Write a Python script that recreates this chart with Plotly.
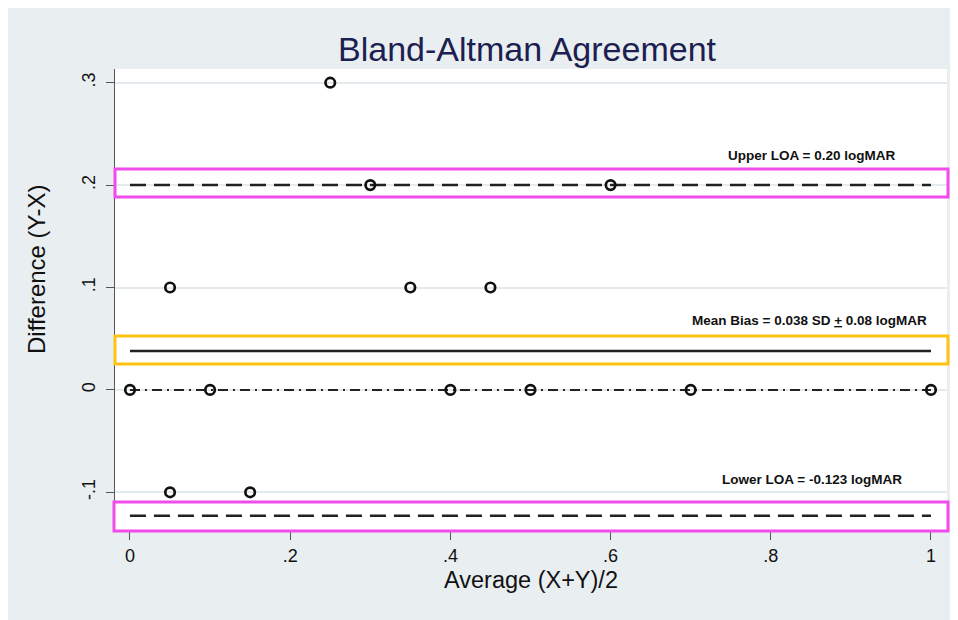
import plotly.graph_objects as go

# ---- data ----
avg_xy = [0.25, 0.30, 0.60, 0.05, 0.35, 0.45, 0.00, 0.10, 0.40, 0.50, 0.70, 1.00, 0.05, 0.15]
diff_yx = [0.30, 0.20, 0.20, 0.10, 0.10, 0.10, 0.00, 0.00, 0.00, 0.00, 0.00, 0.00, -0.10, -0.10]

mean_bias = 0.038
upper_loa = 0.20
lower_loa = -0.123
line_x = [0, 1]

x_tickvals = [0, 0.2, 0.4, 0.6, 0.8, 1.0]
x_ticktext = ["0", ".2", ".4", ".6", ".8", "1"]
y_tickvals = [-0.1, 0, 0.1, 0.2, 0.3]
y_ticktext = ["-.1", "0", ".1", ".2", ".3"]

OFF = 8  # page body margin offset
W, H = 958, 620
# plot area in screenshot coordinates
PL, PT, PR, PB = 115, 69, 947, 531
L, T = PL - OFF, PT - OFF
R, B = W - (PR - OFF), H - (PB - OFF)
PW, PH = PR - PL, PB - PT

def px_x(p):  # screenshot pixel -> paper x
    return (p - PL) / PW

def px_y(p):  # screenshot pixel -> paper y
    return (PB - p) / PH

BG = "#E9EEF1"
fig = go.Figure()

# reference lines
fig.add_trace(go.Scatter(x=line_x, y=[0, 0], mode="lines",
                         line=dict(color="#222222", width=2, dash="10px,5px,2px,5px"),
                         showlegend=False, hoverinfo="skip"))
fig.add_trace(go.Scatter(x=line_x, y=[upper_loa] * 2, mode="lines",
                         line=dict(color="#222222", width=2.5, dash="16px,8px"),
                         showlegend=False, hoverinfo="skip"))
fig.add_trace(go.Scatter(x=line_x, y=[lower_loa] * 2, mode="lines",
                         line=dict(color="#222222", width=2.5, dash="16px,8px"),
                         showlegend=False, hoverinfo="skip"))
fig.add_trace(go.Scatter(x=line_x, y=[mean_bias] * 2, mode="lines",
                         line=dict(color="#222222", width=2.5),
                         showlegend=False, hoverinfo="skip"))

# points
fig.add_trace(go.Scatter(x=avg_xy, y=diff_yx, mode="markers",
                         marker=dict(symbol="circle-open", size=9.5, color="#111111",
                                     line=dict(width=2.7, color="#111111")),
                         showlegend=False))

shapes = [
    dict(type="rect", xref="paper", yref="paper", x0=px_x(115), x1=px_x(948), y0=px_y(197), y1=px_y(169),
         line=dict(color="#F24BEC", width=3), fillcolor="rgba(0,0,0,0)", layer="above"),
    dict(type="rect", xref="paper", yref="paper", x0=px_x(115), x1=px_x(948), y0=px_y(364), y1=px_y(336),
         line=dict(color="#FFC20E", width=3), fillcolor="rgba(0,0,0,0)", layer="above"),
    dict(type="rect", xref="paper", yref="paper", x0=px_x(114), x1=px_x(948), y0=px_y(531), y1=px_y(502),
         line=dict(color="#F24BEC", width=3), fillcolor="rgba(0,0,0,0)", layer="above"),
]

annot_font = dict(family="Liberation Sans, Arial, sans-serif", size=13.5, color="#111111")
annotations = [
    dict(x=0.851, y=0.2288, xref="x", yref="y", text="<b>Upper LOA = 0.20 logMAR</b>",
         showarrow=False, xanchor="center", yanchor="middle", font=annot_font),
    dict(x=0.9975, y=0.0677, xref="x", yref="y",
         text="<b>Mean Bias = 0.038 SD <u>+</u> 0.08 logMAR</b>",
         showarrow=False, xanchor="right", yanchor="middle", font=annot_font),
    dict(x=0.851, y=-0.0876, xref="x", yref="y", text="<b>Lower LOA = -0.123 logMAR</b>",
         showarrow=False, xanchor="center", yanchor="middle", font=annot_font),
    # y-axis title (placed as in the original, slightly above the axis centre)
    dict(x=px_x(36), y=px_y(270), xref="paper", yref="paper", text="Difference (Y-X)",
         textangle=-90, showarrow=False, xanchor="center", yanchor="middle",
         font=dict(family="Liberation Sans, Arial, sans-serif", size=24, color="#111111")),
]

fig.update_layout(
    width=W, height=H,
    margin=dict(l=L, r=R, t=T, b=B, pad=0),
    paper_bgcolor=BG, plot_bgcolor="white",
    font=dict(family="Liberation Sans, Arial, sans-serif", color="#111111"),
    title=dict(text="Bland-Altman Agreement", x=(527 - OFF) / W, xref="container", xanchor="center",
               y=1 - (49 - OFF) / H, yref="container", yanchor="middle",
               font=dict(size=34, color="#1B2050", family="Liberation Sans, Arial, sans-serif")),
    shapes=shapes, annotations=annotations,
    xaxis=dict(range=[-0.0187, 1.02], tickvals=x_tickvals, ticktext=x_ticktext,
               showgrid=False, zeroline=False, showline=True, linecolor="#555555", linewidth=1.2,
               ticks="outside", ticklen=8, tickcolor="#555555", tickwidth=1.2,
               tickfont=dict(size=18, color="#111111"),
               title=dict(text="Average (X+Y)/2", font=dict(size=23.5, color="#111111"), standoff=6)),
    yaxis=dict(range=[-0.1378, 0.3134], tickvals=y_tickvals, ticktext=y_ticktext, tickangle=-90,
               showgrid=True, gridcolor="#E4EBEF", gridwidth=2,
               zeroline=False, showline=True, linecolor="#555555", linewidth=1.2,
               ticks="outside", ticklen=8, tickcolor="#555555", tickwidth=1.2, ticklabelstandoff=4,
               tickfont=dict(size=18, color="#111111")),
)

fig.write_html("out.html")
